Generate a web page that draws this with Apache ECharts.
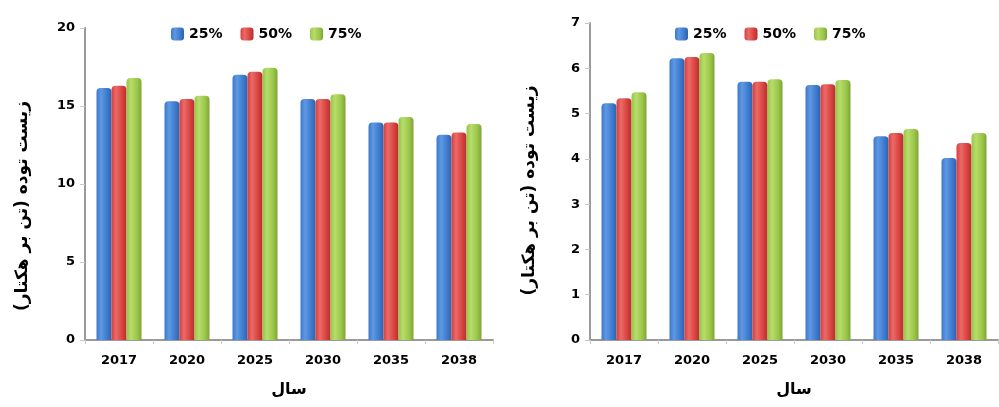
<!DOCTYPE html>
<html>
<head>
<meta charset="utf-8">
<script src="https://cdn.jsdelivr.net/npm/echarts@6/dist/echarts.min.js"></script>
<style>
html,body{margin:0;padding:0;background:#fff;}
#c{width:999px;height:407px;}
</style>
</head>
<body>
<div id="c"></div>
<script>
// Categories and series (biomass, tonnes per hectare)
const years = ['2017', '2020', '2025', '2030', '2035', '2038'];
const seriesNames = ['25%', '50%', '75%'];

// left panel
const leftS1 = [16.15, 15.3, 17.0, 15.45, 13.95, 13.15];
const leftS2 = [16.3, 15.45, 17.2, 15.45, 13.95, 13.3];
const leftS3 = [16.8, 15.65, 17.45, 15.75, 14.3, 13.85];

// right panel
const rightS1 = [5.23, 6.22, 5.70, 5.63, 4.50, 4.02];
const rightS2 = [5.34, 6.25, 5.70, 5.65, 4.57, 4.35];
const rightS3 = [5.47, 6.34, 5.76, 5.74, 4.66, 4.57];

const yTitle = 'زیست توده (تن بر هکتار)';
const xTitle = 'سال';

const FONT = 'DejaVu Sans';
const AXIS_GREY = '#9a9a9a';

function bevel(dark, mid, light) {
  return new echarts.graphic.LinearGradient(0, 0, 1, 0, [
    { offset: 0, color: mid },
    { offset: 0.3, color: light },
    { offset: 0.75, color: mid },
    { offset: 1, color: dark }
  ]);
}
const fills = [
  bevel('#2d62ad', '#3b78cc', '#5f98e2'),
  bevel('#b52f2c', '#d63e3b', '#ea6b68'),
  bevel('#7ea435', '#98c447', '#b7dd6c')
];

function mkSeries(idx, data, gi) {
  return {
    type: 'bar',
    name: seriesNames[idx],
    xAxisIndex: gi,
    yAxisIndex: gi,
    data: data,
    barWidth: 15,
    barGap: '0%',
    itemStyle: { color: fills[idx], borderRadius: [4, 4, 0, 0] }
  };
}

function xAxisCfg(gi) {
  return {
    type: 'category',
    gridIndex: gi,
    data: years,
    axisLine: { lineStyle: { color: AXIS_GREY, width: 2 } },
    axisTick: { show: true, length: 4, lineStyle: { color: '#c8c8c8' } },
    axisLabel: { color: '#000', fontFamily: FONT, fontWeight: 'bold', fontSize: 13, margin: 14 },
    name: xTitle,
    nameLocation: 'middle',
    nameGap: 42,
    nameTextStyle: { color: '#000', fontFamily: FONT, fontWeight: 'bold', fontSize: 16 }
  };
}

// shift: extra padding that nudges the rotated title down along the axis
function yAxisCfg(gi, max, interval, gap, shift) {
  return {
    type: 'value',
    gridIndex: gi,
    min: 0,
    max: max,
    interval: interval,
    splitLine: { show: false },
    axisLine: { show: true, lineStyle: { color: AXIS_GREY, width: 2 } },
    axisTick: { show: true, length: 5, inside: false, lineStyle: { color: '#c8c8c8' } },
    axisLabel: { color: '#000', fontFamily: FONT, fontWeight: 'bold', fontSize: 13, margin: 10 },
    name: yTitle,
    nameLocation: 'middle',
    nameRotate: 90,
    nameGap: gap,
    nameTextStyle: { color: '#000', fontFamily: FONT, fontWeight: 'bold', fontSize: 17, padding: [0, shift, 0, 0] }
  };
}

function legendCfg(left) {
  return {
    data: seriesNames,
    left: left,
    top: 22,
    itemWidth: 13,
    itemHeight: 13,
    itemGap: 18,
    textStyle: { color: '#000', fontFamily: FONT, fontWeight: 'bold', fontSize: 14 }
  };
}

const chart = echarts.init(document.getElementById('c'), null, { renderer: 'canvas' });
chart.setOption({
  backgroundColor: '#fff',
  animation: false,
  legend: [legendCfg(166), legendCfg(670)],
  grid: [
    { left: 85, top: 28, width: 408, height: 312 },
    { left: 590, top: 23, width: 408, height: 317 }
  ],
  xAxis: [xAxisCfg(0), xAxisCfg(1)],
  yAxis: [yAxisCfg(0, 20, 5, 54, 44), yAxisCfg(1, 7, 1, 52, 18)],
  series: [
    mkSeries(0, leftS1, 0), mkSeries(1, leftS2, 0), mkSeries(2, leftS3, 0),
    mkSeries(0, rightS1, 1), mkSeries(1, rightS2, 1), mkSeries(2, rightS3, 1)
  ]
});
</script>
</body>
</html>
